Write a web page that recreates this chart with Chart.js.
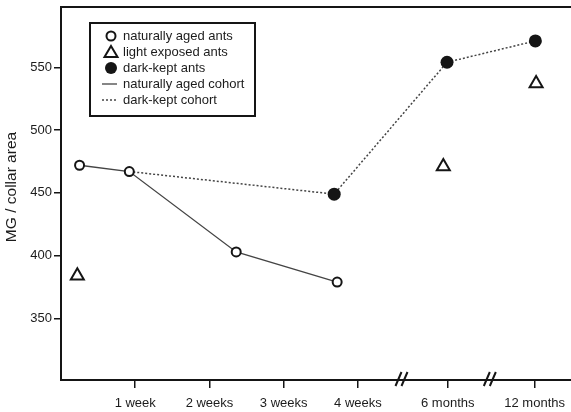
<!DOCTYPE html>
<html>
<head>
<meta charset="utf-8">
<script src="https://cdn.jsdelivr.net/npm/chart.js@4/dist/chart.umd.min.js"></script>
<style>
  html, body { margin: 0; padding: 0; background: #fff; }
  #wrap { width: 571px; height: 412px; position: relative; }
</style>
</head>
<body>
<div id="wrap"><canvas id="myChart"></canvas></div>
<script>
// x values are in "weeks" along the drawn axis (months sit past the breaks)
var tickValues = [1, 2, 3, 4, 5.21, 6.38];
var tickLabels = ['1 week', '2 weeks', '3 weeks', '4 weeks', '6 months', '12 months'];
var yTicks = [350, 400, 450, 500, 550];
var axisBreaks = [4.60, 5.79];
var yTitle = 'MG / collar area';

// naturally aged ants (open circles)
var naturalX = [0.25, 0.92, 2.36, 3.72];
var naturalY = [472, 467, 403, 379];

// light exposed ants (open triangles)
var lightX = [0.22, 5.15, 6.40];
var lightY = [384, 471, 537];

// dark-kept ants (filled circles)
var darkX = [3.68, 5.20, 6.39];
var darkY = [449, 554, 571];

// dark-kept cohort starts from the 1-week naturally aged point
var darkCohortX = [naturalX[1]].concat(darkX);
var darkCohortY = [naturalY[1]].concat(darkY);

var legendLabels = ['naturally aged ants', 'light exposed ants', 'dark-kept ants',
                    'naturally aged cohort', 'dark-kept cohort'];

function pts(xs, ys) {
  return xs.map(function (x, i) { return { x: x, y: ys[i] }; });
}

var font = "'Liberation Sans', Arial, Helvetica, sans-serif";
var ink = '#151515';
var textCol = '#1c1c1c';

// top frame line, axis breaks, y title and the boxed legend
var extras = {
  id: 'extras',
  afterDraw: function (chart) {
    var ctx = chart.ctx;
    var area = chart.chartArea;
    var xs = chart.scales.x;
    ctx.save();

    // top border
    ctx.strokeStyle = ink;
    ctx.lineWidth = 2;
    ctx.beginPath();
    ctx.moveTo(area.left - 1, area.top);
    ctx.lineTo(chart.width, area.top);
    ctx.stroke();

    // axis breaks "//"
    axisBreaks.forEach(function (b) {
      var px = xs.getPixelForValue(b);
      var py = area.bottom;
      ctx.strokeStyle = ink;
      ctx.lineWidth = 2;
      ctx.beginPath();
      ctx.moveTo(px - 7, py + 6); ctx.lineTo(px - 1, py - 8);
      ctx.moveTo(px - 1, py + 6); ctx.lineTo(px + 5, py - 8);
      ctx.stroke();
    });

    // y axis title
    ctx.save();
    ctx.translate(12, 187);
    ctx.rotate(-Math.PI / 2);
    ctx.font = '15.5px ' + font;
    ctx.fillStyle = textCol;
    ctx.textAlign = 'center';
    ctx.textBaseline = 'middle';
    ctx.fillText(yTitle, 0, 0);
    ctx.restore();

    // legend box
    var bx = 90, by = 23, bw = 165, bh = 93;
    ctx.fillStyle = '#fff';
    ctx.fillRect(bx, by, bw, bh);
    ctx.strokeStyle = ink;
    ctx.lineWidth = 2;
    ctx.strokeRect(bx, by, bw, bh);

    var mx = 111, tx = 123, y0 = 36, step = 16;
    ctx.font = '13px ' + font;
    ctx.fillStyle = textCol;
    ctx.textBaseline = 'middle';
    ctx.textAlign = 'left';
    legendLabels.forEach(function (t, i) {
      ctx.fillText(t, tx, y0 + i * step);
    });

    // markers
    ctx.lineWidth = 2;
    ctx.strokeStyle = ink;
    ctx.beginPath();
    ctx.arc(mx, y0, 4.5, 0, Math.PI * 2);
    ctx.fillStyle = '#fff'; ctx.fill(); ctx.stroke();

    var ty = y0 + step;
    ctx.beginPath();
    ctx.moveTo(mx, ty - 6);
    ctx.lineTo(mx + 6.5, ty + 5);
    ctx.lineTo(mx - 6.5, ty + 5);
    ctx.closePath();
    ctx.stroke();

    ctx.beginPath();
    ctx.arc(mx, y0 + 2 * step, 6, 0, Math.PI * 2);
    ctx.fillStyle = ink; ctx.fill();

    ctx.strokeStyle = '#444';
    ctx.lineWidth = 1.3;
    ctx.beginPath();
    ctx.moveTo(102, y0 + 3 * step); ctx.lineTo(117, y0 + 3 * step);
    ctx.stroke();
    ctx.setLineDash([2, 2]);
    ctx.beginPath();
    ctx.moveTo(102, y0 + 4 * step); ctx.lineTo(117, y0 + 4 * step);
    ctx.stroke();
    ctx.restore();
  }
};

var ctx = document.getElementById('myChart').getContext('2d');
var myChart = new Chart(ctx, {
  type: 'scatter',
  data: {
    datasets: [
      {
        label: legendLabels[0],
        data: pts(naturalX, naturalY),
        pointStyle: 'circle',
        pointRadius: 4.5,
        pointBackgroundColor: '#fff',
        pointBorderColor: ink,
        pointBorderWidth: 2,
        order: 0
      },
      {
        label: legendLabels[1],
        data: pts(lightX, lightY),
        pointStyle: 'triangle',
        pointRadius: 7.5,
        pointBackgroundColor: '#fff',
        pointBorderColor: ink,
        pointBorderWidth: 2,
        order: 0
      },
      {
        label: legendLabels[2],
        data: pts(darkX, darkY),
        pointStyle: 'circle',
        pointRadius: 6.5,
        pointBackgroundColor: ink,
        pointBorderColor: ink,
        pointBorderWidth: 0,
        order: 0
      },
      {
        label: legendLabels[3],
        data: pts(naturalX, naturalY),
        showLine: true,
        pointRadius: 0,
        borderColor: '#444',
        borderWidth: 1.3,
        order: 1
      },
      {
        label: legendLabels[4],
        data: pts(darkCohortX, darkCohortY),
        showLine: true,
        pointRadius: 0,
        borderColor: '#444',
        borderWidth: 1.5,
        borderDash: [2, 2],
        order: 1
      }
    ]
  },
  options: {
    responsive: true,
    maintainAspectRatio: false,
    animation: false,
    layout: { autoPadding: false, padding: { top: 7, right: 0, bottom: 0, left: 0 } },
    plugins: {
      legend: { display: false },
      tooltip: { enabled: false }
    },
    scales: {
      x: {
        type: 'linear',
        bounds: 'data',
        min: 0,
        max: 6.87,
        afterBuildTicks: function (scale) {
          scale.ticks = tickValues.map(function (v) { return { value: v }; });
        },
        afterFit: function (scale) {
          scale.height = 32;
          scale.paddingLeft = 0;
          scale.paddingRight = 0;
        },
        grid: { drawOnChartArea: false, tickLength: 8, color: ink, lineWidth: 1.5 },
        border: { color: ink, width: 2 },
        ticks: {
          autoSkip: false,
          maxRotation: 0,
          padding: 8,
          color: textCol,
          font: { family: font, size: 13 },
          callback: function (v) { return tickLabels[tickValues.indexOf(v)]; }
        }
      },
      y: {
        bounds: 'data',
        min: 301,
        max: 598,
        afterBuildTicks: function (scale) {
          scale.ticks = yTicks.map(function (v) { return { value: v }; });
        },
        afterFit: function (scale) {
          scale.width = 61;
          scale.paddingTop = 0;
          scale.paddingBottom = 0;
        },
        grid: { drawOnChartArea: false, tickLength: 7, color: ink, lineWidth: 1.5 },
        border: { color: ink, width: 2 },
        ticks: {
          padding: 2,
          color: textCol,
          font: { family: font, size: 13 }
        }
      }
    }
  },
  plugins: [extras]
});
</script>
</body>
</html>
